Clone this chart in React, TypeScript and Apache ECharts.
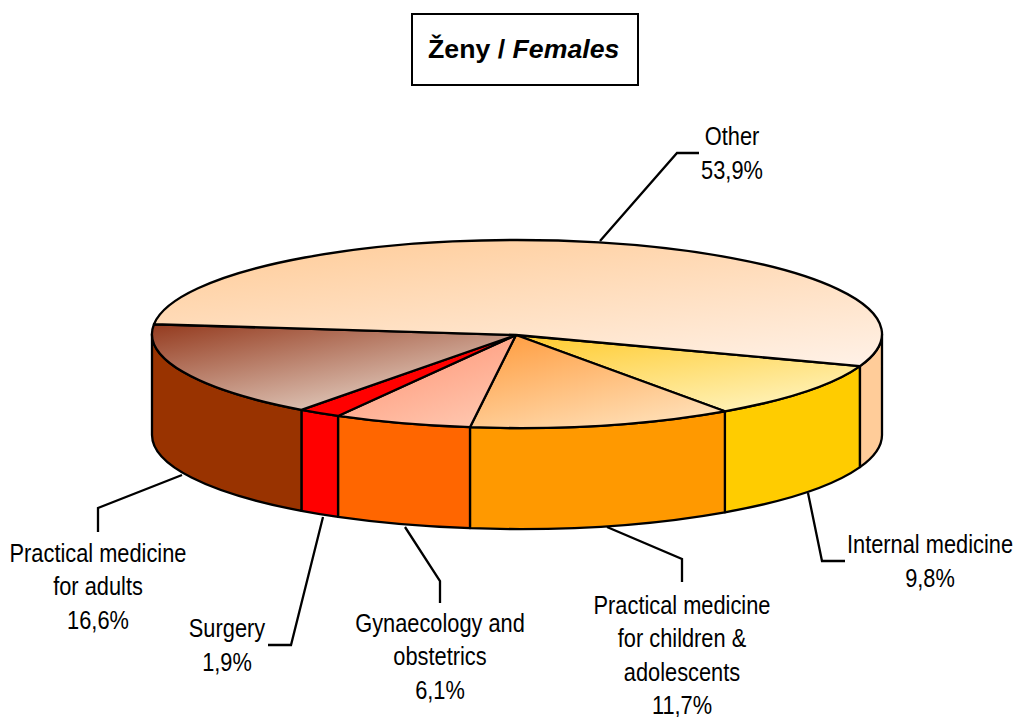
import React, { useEffect, useRef } from "react";
import * as echarts from "echarts";

// Data, clockwise from the right-hand edge of the "Other" slice
const categories = [
  "Internal medicine",
  "Practical medicine\nfor children &\nadolescents",
  "Gynaecology and\nobstetrics",
  "Surgery",
  "Practical medicine\nfor adults",
  "Other",
];
const shares = [9.8, 11.7, 6.1, 1.9, 16.6, 53.9];
const shareLabels = ["9,8%", "11,7%", "6,1%", "1,9%", "16,6%", "53,9%"];

// Styles
const sideColors = ["#FFCC00", "#FF9900", "#FF6600", "#FF0000", "#993300", "#FFCC99"];
const topGradients = [
  ["#FFCC33", "#FFF3BC"],
  ["#FF9D40", "#FFE0B8"],
  ["#FF9070", "#FFC6AE"],
  ["#FF0000", "#FF0000"],
  ["#943A1E", "#DABDAE"],
  ["#FFCC99", "#FFF1E6"],
];
const gradientVectors = [
  [0.1, 0, 0.75, 1],
  [0.1, 0, 0.75, 1],
  [0.1, 0, 0.75, 1],
  [0.1, 0, 0.75, 1],
  [0, 0, 0.65, 0.8],
  [0.1, 0, 0.8, 1.1],
];

// Layout
const CX = 517, CY = 334, RX = 365, RY = 94, DEPTH = 101;
const APEX_X = 516, APEX_Y = 335;
const START_DEG = 20;
const STROKE = 2.3;
const FONT = '"Liberation Sans", Arial, sans-serif';
const LABEL_SCALE = 0.855;
const labelCenters = [[930, 561.5], [682, 655.5], [440, 656.5], [227, 645.5], [98, 586.5], [732, 153.5]];
const leaders = [
  [[808, 493], [822, 561], [845, 561]],
  [[607, 527], [682, 559], [682, 582]],
  [[405, 527], [440, 581], [440, 603]],
  [[323, 517], [291, 645], [268, 645]],
  [[182, 475], [98, 508], [98, 532]],
  [[600, 241], [677, 153], [699, 153]],
];

const total = shares.reduce((a, b) => a + b, 0);
const angleStarts: number[] = [];
shares.reduce((acc, v) => {
  angleStarts.push(acc);
  return acc + (v / total) * 360;
}, START_DEG);

const pt = (deg: number, dy = 0) => {
  const r = (deg * Math.PI) / 180;
  return [CX + RX * Math.cos(r), CY + RY * Math.sin(r) + dy];
};
const arc = (to: number, large: boolean, sweep: boolean, dy = 0) => {
  const p = pt(to, dy);
  return `A${RX} ${RY} 0 ${large ? 1 : 0} ${sweep ? 1 : 0} ${p[0]} ${p[1]}`;
};

const topPath = (a0: number, a1: number) => {
  const p = pt(a0);
  return `M${APEX_X} ${APEX_Y}L${p[0]} ${p[1]}${arc(a1, a1 - a0 > 180, true)}Z`;
};
const sidePath = (a0: number, a1: number) => {
  const from = pt(a0);
  const b = pt(a1, DEPTH);
  return `M${from[0]} ${from[1]}${arc(a1, false, true)}L${b[0]} ${b[1]}${arc(a0, false, false, DEPTH)}Z`;
};
// visible part of a slice's wall: the front half of the ellipse
const visibleRange = (a0: number, a1: number): [number, number] | null => {
  for (const [lo, hi] of [[0, 180], [360, 540]]) {
    const s = Math.max(a0, lo), e = Math.min(a1, hi);
    if (e > s) return [s, e];
  }
  return null;
};

export default function App() {
  const ref = useRef<HTMLDivElement>(null);
  useEffect(() => {
    const chart = echarts.init(ref.current!, undefined, { renderer: "svg" });
    const data = shares.map((v, i) => ({ value: v, name: categories[i] }));
    const outline = { stroke: "#000", lineWidth: STROKE, lineJoin: "round" };
    chart.setOption({
      animation: false,
      backgroundColor: "#fff",
      title: {
        text: "{a|Ženy / }{b|Females}",
        left: 428,
        top: 35,
        padding: 0,
        textStyle: {
          rich: {
            a: { fontFamily: "Liberation Sans", fontSize: 26.7, fontWeight: "bold", color: "#000" },
            b: { fontFamily: "Liberation Sans", fontSize: 26.7, fontWeight: "bold", fontStyle: "italic", color: "#000" },
          },
        },
      },
      graphic: [
        {
          type: "rect",
          z: -1,
          shape: { x: 412, y: 14, width: 226, height: 71 },
          style: { fill: "#fff", stroke: "#000", lineWidth: 2 },
        },
      ],
      series: [
        {
          type: "custom",
          coordinateSystem: "none",
          data,
          renderItem: (params: any) => {
            const i = params.dataIndex;
            const a0 = angleStarts[i];
            const a1 = a0 + (shares[i] / total) * 360;
            const range = visibleRange(a0, a1);
            if (!range) return { type: "group", children: [] };
            return {
              type: "path",
              shape: { pathData: sidePath(range[0], range[1]) },
              style: { fill: sideColors[i], ...outline },
            };
          },
        },
        {
          type: "custom",
          coordinateSystem: "none",
          data,
          z: 3,
          renderItem: (params: any) => {
            const i = params.dataIndex;
            const a0 = angleStarts[i];
            const a1 = a0 + (shares[i] / total) * 360;
            const [x, y, x2, y2] = gradientVectors[i];
            return {
              type: "path",
              shape: { pathData: topPath(a0, a1) },
              style: {
                fill: {
                  type: "linear",
                  x,
                  y,
                  x2,
                  y2,
                  colorStops: [
                    { offset: 0, color: topGradients[i][0] },
                    { offset: 1, color: topGradients[i][1] },
                  ],
                },
                ...outline,
              },
            };
          },
        },
        {
          type: "custom",
          coordinateSystem: "none",
          data,
          z: 1,
          renderItem: (params: any) => {
            const i = params.dataIndex;
            return {
              type: "group",
              children: [
                {
                  type: "polyline",
                  shape: { points: leaders[i] },
                  style: { fill: "none", stroke: "#000", lineWidth: STROKE },
                },
                {
                  type: "text",
                  x: labelCenters[i][0],
                  y: labelCenters[i][1],
                  scaleX: LABEL_SCALE,
                  style: {
                    text: categories[i] + "\n" + shareLabels[i],
                    x: 0,
                    y: 0,
                    align: "center",
                    verticalAlign: "middle",
                    fontFamily: FONT,
                    fontSize: 25.5,
                    lineHeight: 33.6,
                    fill: "#000",
                  },
                },
              ],
            };
          },
        },
      ],
    });
    return () => chart.dispose();
  }, []);
  return <div ref={ref} style={{ position: "fixed", left: 0, top: 0, width: 1016, height: 717 }} />;
}
